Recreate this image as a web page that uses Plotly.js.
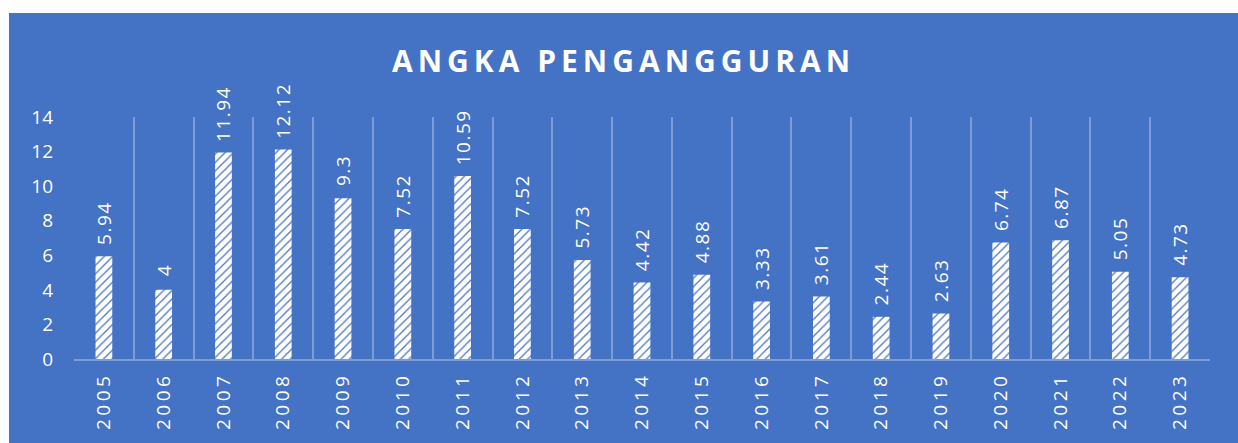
<!DOCTYPE html>
<html>
<head>
<meta charset="utf-8">
<script src="https://cdn.plot.ly/plotly-3.0.1.min.js"></script>
<style>
  html, body { margin: 0; padding: 0; background: #ffffff; width: 1238px; height: 443px; overflow: hidden; }
  #chart { position: absolute; left: 9px; top: 13px; width: 1229px; height: 430px; }
  #chart .gtitle { letter-spacing: 5px; }
  #chart .xtick text { letter-spacing: 3.5px; }
  #chart .bartext text, #chart text.bartext { letter-spacing: 1.5px; }
</style>
</head>
<body>
<div id="chart"></div>
<script>
const years = ['2005','2006','2007','2008','2009','2010','2011','2012','2013','2014','2015','2016','2017','2018','2019','2020','2021','2022','2023'];
const unemployment = [5.94, 4, 11.94, 12.12, 9.3, 7.52, 10.59, 7.52, 5.73, 4.42, 4.88, 3.33, 3.61, 2.44, 2.63, 6.74, 6.87, 5.05, 4.73];
const titleText = 'ANGKA PENGANGGURAN';
const yTicks = [0, 2, 4, 6, 8, 10, 12, 14];

const blue = '#4472C4';
const grid = '#7F9CD6';
const fontFamily = '"Open Sans", "Noto Sans", sans-serif';

const trace = {
  type: 'bar',
  x: years,
  y: unemployment,
  text: unemployment.map(v => '\u00a0\u00a0' + String(v)),
  textposition: 'outside',
  textangle: -90,
  constraintext: 'none',
  cliponaxis: false,
  textfont: { family: fontFamily, size: 19, color: '#ffffff' },
  marker: {
    color: '#ffffff',
    line: { width: 0 },
    pattern: { shape: '/', fillmode: 'replace', bgcolor: '#ffffff', fgcolor: blue, size: 6, solidity: 0.2 }
  },
  hoverinfo: 'x+y'
};

const layout = {
  width: 1229,
  height: 430,
  paper_bgcolor: blue,
  plot_bgcolor: blue,
  margin: { l: 65, r: 28, t: 104, b: 84 },
  bargap: 0.72,
  showlegend: false,
  title: {
    text: titleText,
    font: { family: fontFamily, size: 30, color: '#ffffff', weight: 'bold' },
    x: 0.5, xanchor: 'center',
    y: 1 - 48 / 430, yanchor: 'middle'
  },
  xaxis: {
    type: 'category',
    tickson: 'boundaries',
    showgrid: true,
    gridcolor: grid,
    gridwidth: 2,
    showline: true,
    linecolor: grid,
    linewidth: 2,
    ticks: '',
    tickangle: -90,
    ticklabelstandoff: 4,
    tickfont: { family: fontFamily, size: 19, color: '#ffffff' },
    automargin: false
  },
  yaxis: {
    range: [0, 14],
    tickvals: yTicks,
    ticktext: yTicks.map(String),
    showgrid: false,
    zeroline: false,
    showline: false,
    ticks: '',
    ticklabelstandoff: 20,
    tickfont: { family: fontFamily, size: 19, color: '#ffffff' },
    automargin: false
  }
};

Plotly.newPlot('chart', [trace], layout, { staticPlot: true, displayModeBar: false });
</script>
</body>
</html>
